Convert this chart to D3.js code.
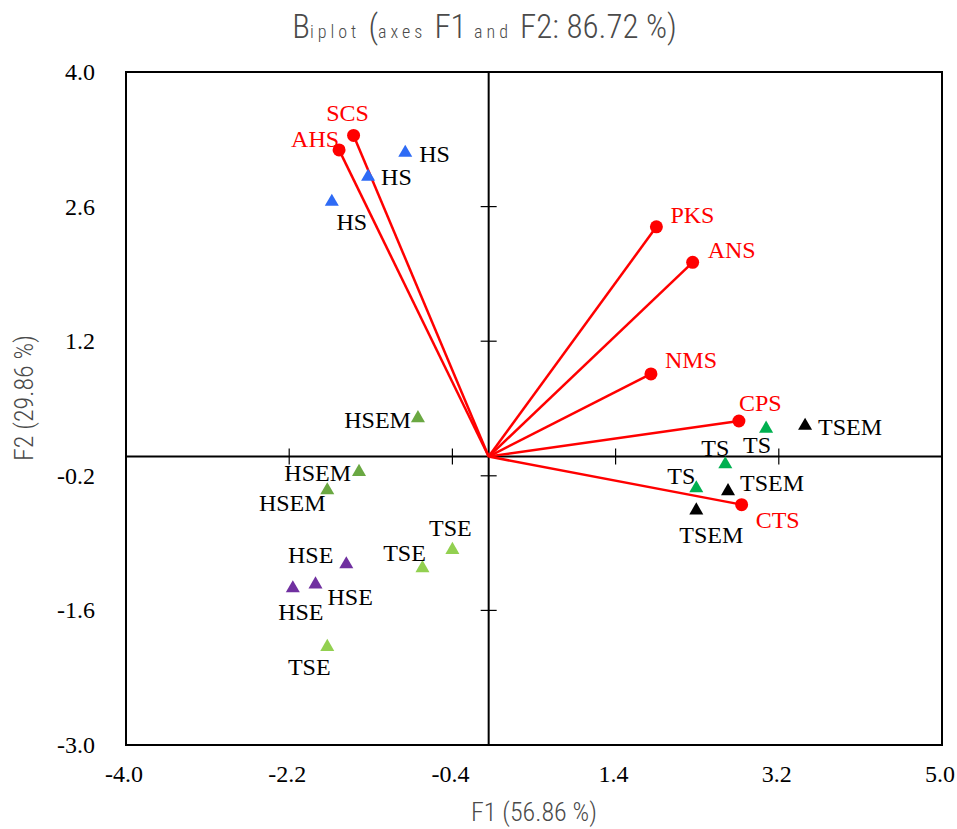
<!DOCTYPE html>
<html>
<head>
<meta charset="utf-8">
<script src="https://cdn.jsdelivr.net/npm/d3@7"></script>
<style>
  body { margin: 0; background: #fff; }
</style>
</head>
<body>
<div id="chart"></div>
<script>
/*------Biplot data------*/

var xTicks = [-4.0, -2.2, -0.4, 1.4, 3.2, 5.0];
var yTicks = [-3.0, -1.6, -0.2, 1.2, 2.6, 4.0];

// active variables (red vectors)
var varNames = ["SCS", "AHS", "PKS", "ANS", "NMS", "CPS", "CTS"];
var varF1 = [-1.49, -1.65, 1.85, 2.25, 1.79, 2.76, 2.79];
var varF2 = [3.34, 3.19, 2.39, 2.02, 0.86, 0.37, -0.50];

// observations (triangles)
var obsNames = ["HS", "HS", "HS",
  "HSEM", "HSEM", "HSEM",
  "HSE", "HSE", "HSE",
  "TSE", "TSE", "TSE",
  "TS", "TS", "TS",
  "TSEM", "TSEM", "TSEM"];
var obsF1 = [-0.92, -1.33, -1.73,
  -0.78, -1.43, -1.78,
  -1.57, -1.91, -2.16,
  -0.40, -0.73, -1.78,
  3.06, 2.61, 2.29,
  3.49, 2.64, 2.29];
var obsF2 = [3.16, 2.91, 2.65,
  0.40, -0.16, -0.35,
  -1.12, -1.33, -1.37,
  -0.97, -1.16, -1.98,
  0.29, -0.08, -0.33,
  0.32, -0.36, -0.56];

// label placement [dx, dy, anchor] next to each mark
var varLabelPos = [[-6, -14, "middle"], [0, -3, "end"], [14, -4, "start"], [15, -4, "start"],
  [14, -6, "start"], [0, -10, "start"], [14, 23, "start"]];
var obsLabelPos = [[14, 9, "start"], [13, 8, "start"], [20, 28, "middle"],
  [-7, 10, "end"], [-8, 9, "end"], [-35, 21, "middle"],
  [-13, -1, "end"], [12, 21, "start"], [8, 32, "middle"],
  [-2, -14, "middle"], [-18, -7, "middle"], [-18, 28, "middle"],
  [-9, 24, "middle"], [-10, -8, "middle"], [-15, -4, "middle"],
  [13, 9, "start"], [12, 0, "start"], [15, 33, "middle"]];

var groupColor = {
  "HS": "#2e6bf5",
  "HSEM": "#6aa842",
  "HSE": "#7030a0",
  "TSE": "#92d050",
  "TS": "#00b050",
  "TSEM": "#000000"
};

var serif = "'Liberation Serif', 'Times New Roman', serif";
var thin = "'Roboto Condensed', 'Roboto', sans-serif";

/*------Canvas------*/

var width = 957, height = 829;
var margin = {left: 126, right: 15, top: 72, bottom: 84};

var svg = d3.select("#chart")
    .append("svg")
    .attr("width", width)
    .attr("height", height);

var x = d3.scaleLinear().domain([-4, 5]).range([margin.left, width - margin.right]);
var y = d3.scaleLinear().domain([-3, 4]).range([height - margin.bottom, margin.top]);

/*------Frame and tick labels------*/

svg.append("rect")
    .attr("x", x(-4)).attr("y", y(4))
    .attr("width", x(5) - x(-4)).attr("height", y(-3) - y(4))
    .attr("fill", "none").attr("stroke", "#000").attr("stroke-width", 2);

svg.selectAll(".xlab")
  .data(xTicks)
  .enter()
  .append("text")
    .attr("x", function(d) { return x(d) - 2; })
    .attr("y", y(-3) + 37)
    .attr("text-anchor", "middle")
    .style("font-family", serif)
    .style("font-size", "24px")
    .text(function(d) { return d.toFixed(1); });

svg.selectAll(".ylab")
  .data(yTicks)
  .enter()
  .append("text")
    .attr("x", x(-4) - 31)
    .attr("y", function(d) { return y(d) + 8; })
    .attr("text-anchor", "end")
    .style("font-family", serif)
    .style("font-size", "24px")
    .text(function(d) { return d.toFixed(1); });

/*------Zero axes with crossing ticks------*/

svg.append("line")
    .attr("x1", x(-4)).attr("x2", x(5))
    .attr("y1", y(0)).attr("y2", y(0))
    .attr("stroke", "#000").attr("stroke-width", 2);
svg.append("line")
    .attr("x1", x(0)).attr("x2", x(0))
    .attr("y1", y(4)).attr("y2", y(-3))
    .attr("stroke", "#000").attr("stroke-width", 2);

var xInner = xTicks.slice(1, -1);
var yInner = yTicks.slice(1, -1);

svg.selectAll(".xtick")
  .data(xInner)
  .enter()
  .append("line")
    .attr("x1", function(d) { return x(d); })
    .attr("x2", function(d) { return x(d); })
    .attr("y1", y(0) - 8).attr("y2", y(0) + 8)
    .attr("stroke", "#000").attr("stroke-width", 1.2);

svg.selectAll(".ytick")
  .data(yInner)
  .enter()
  .append("line")
    .attr("y1", function(d) { return y(d); })
    .attr("y2", function(d) { return y(d); })
    .attr("x1", x(0) - 8).attr("x2", x(0) + 8)
    .attr("stroke", "#000").attr("stroke-width", 1.2);

/*------Variable vectors------*/

var vars = varNames.map(function(n, i) {
  return {name: n, f1: varF1[i], f2: varF2[i], pos: varLabelPos[i]};
});

svg.selectAll(".vec")
  .data(vars)
  .enter()
  .append("line")
    .attr("x1", x(0)).attr("y1", y(0))
    .attr("x2", function(d) { return x(d.f1); })
    .attr("y2", function(d) { return y(d.f2); })
    .attr("stroke", "#ff0000").attr("stroke-width", 2.5);

svg.selectAll(".vdot")
  .data(vars)
  .enter()
  .append("circle")
    .attr("cx", function(d) { return x(d.f1); })
    .attr("cy", function(d) { return y(d.f2); })
    .attr("r", 6.5)
    .attr("fill", "#ff0000");

svg.selectAll(".vlab")
  .data(vars)
  .enter()
  .append("text")
    .attr("x", function(d) { return x(d.f1) + d.pos[0]; })
    .attr("y", function(d) { return y(d.f2) + d.pos[1]; })
    .attr("text-anchor", function(d) { return d.pos[2]; })
    .attr("fill", "#ff0000")
    .style("font-family", serif)
    .style("font-size", "24px")
    .text(function(d) { return d.name; });

/*------Observations------*/

var obs = obsNames.map(function(n, i) {
  return {name: n, f1: obsF1[i], f2: obsF2[i], pos: obsLabelPos[i]};
});

var tri = d3.symbol().type(d3.symbolTriangle).size(85);

svg.selectAll(".obs")
  .data(obs)
  .enter()
  .append("path")
    .attr("d", tri)
    .attr("transform", function(d) { return "translate(" + x(d.f1) + "," + y(d.f2) + ")"; })
    .attr("fill", function(d) { return groupColor[d.name]; });

svg.selectAll(".olab")
  .data(obs)
  .enter()
  .append("text")
    .attr("x", function(d) { return x(d.f1) + d.pos[0]; })
    .attr("y", function(d) { return y(d.f2) + d.pos[1]; })
    .attr("text-anchor", function(d) { return d.pos[2]; })
    .attr("fill", "#000")
    .style("font-family", serif)
    .style("font-size", "24px")
    .text(function(d) { return d.name; });

/*------Titles------*/

var title = svg.append("text")
    .attr("x", width / 2 + 6)
    .attr("y", 38)
    .attr("text-anchor", "middle")
    .attr("fill", "#4a4a4a")
    .style("font-family", thin)
    .style("font-weight", 300)
    .style("font-size", "33px");
title.append("tspan").text("B");
title.append("tspan").style("font-size", "18px").attr("letter-spacing", 4).text("iplot ");
title.append("tspan").text("(");
title.append("tspan").style("font-size", "18px").attr("letter-spacing", 4).text("axes ");
title.append("tspan").text("F1 ");
title.append("tspan").style("font-size", "18px").attr("letter-spacing", 4).text("and ");
title.append("tspan").text("F2: 86.72 %)");

svg.append("text")
    .attr("x", x(0.5))
    .attr("y", 821)
    .attr("text-anchor", "middle")
    .attr("fill", "#4a4a4a")
    .style("font-family", thin)
    .style("font-weight", 300)
    .style("font-size", "26px")
    .text("F1 (56.86 %)");

svg.append("text")
    .attr("transform", "translate(33,398) rotate(-90)")
    .attr("text-anchor", "middle")
    .attr("fill", "#4a4a4a")
    .style("font-family", thin)
    .style("font-weight", 300)
    .style("font-size", "26px")
    .text("F2 (29.86 %)");
</script>
</body>
</html>
